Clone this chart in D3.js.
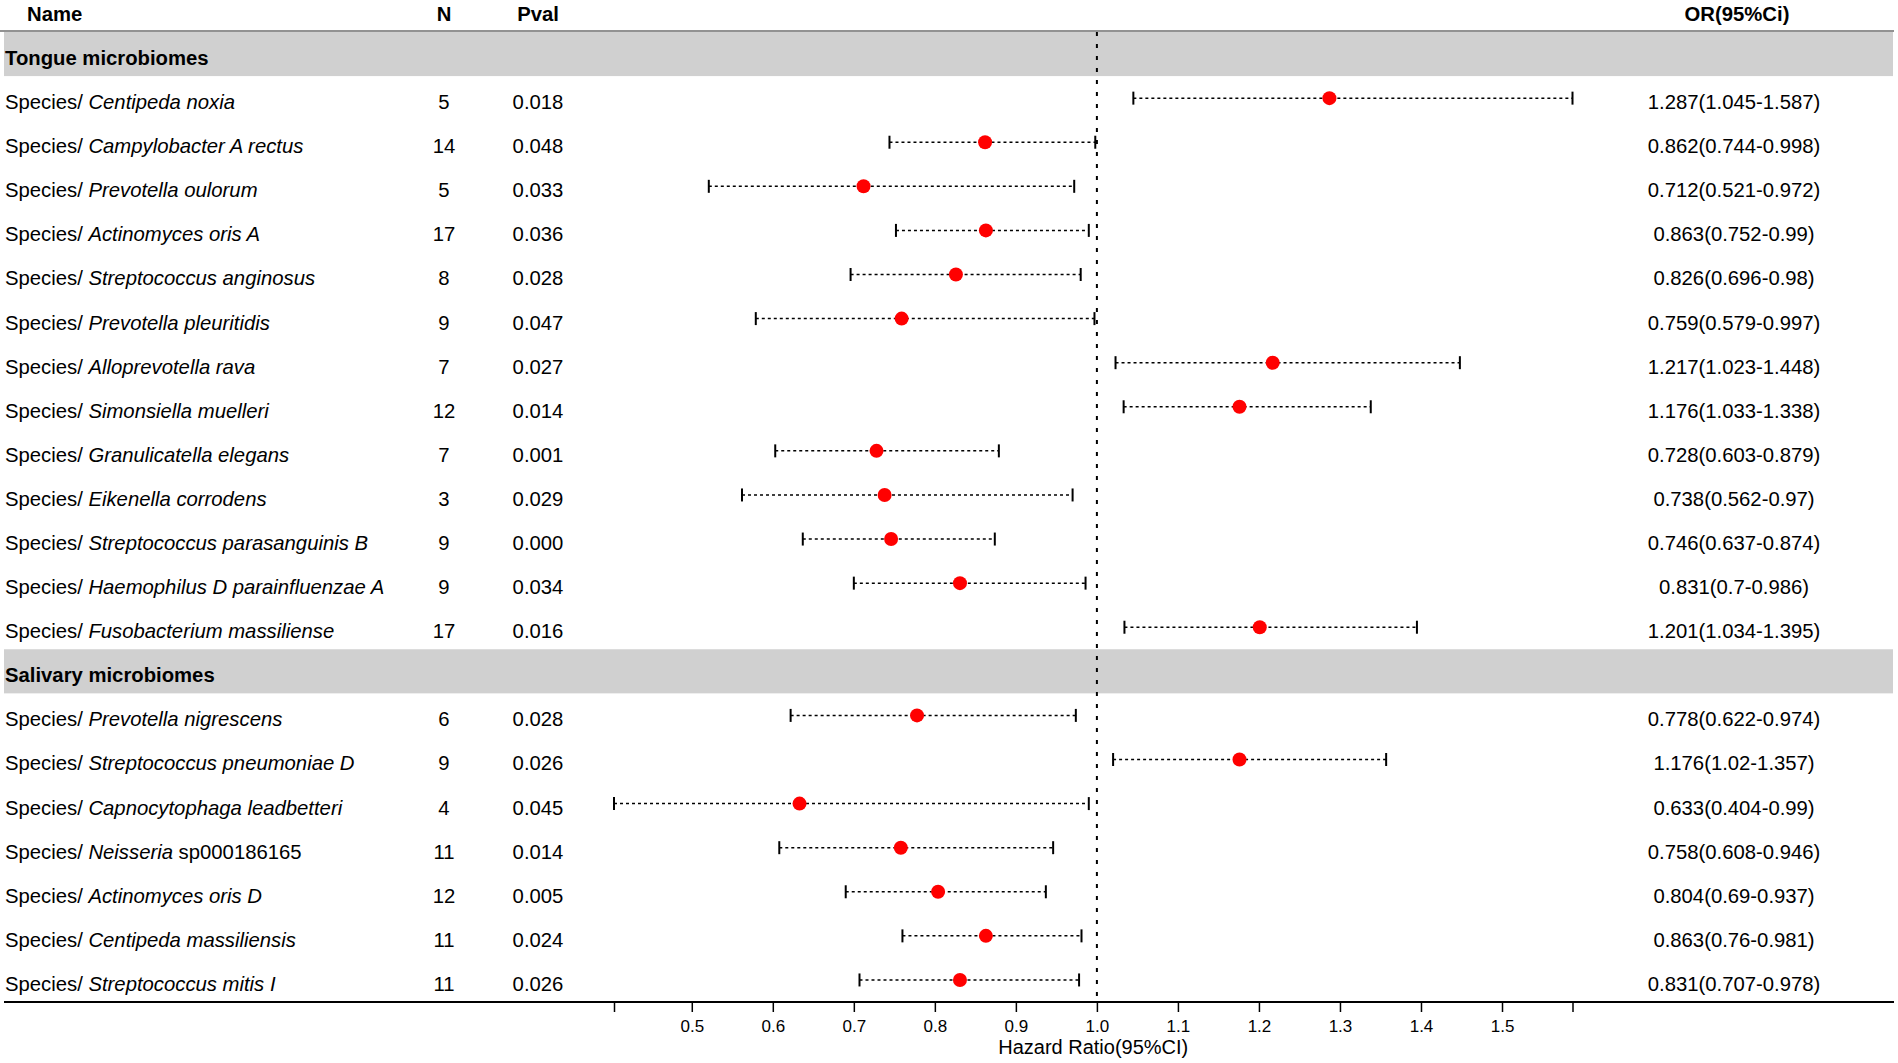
<!DOCTYPE html>
<html>
<head>
<meta charset="utf-8">
<script src="https://cdn.jsdelivr.net/npm/d3@7"></script>
<style>
  body { margin: 0; background: #fff; }
  text { font-family: 'Liberation Sans', Arial, sans-serif; }
</style>
</head>
<body>
<script>
var canvasWidth = 1898;
var canvasHeight = 1063;

// Tongue microbiomes
var tongueTaxa = ['Centipeda noxia', 'Campylobacter A rectus', 'Prevotella oulorum', 'Actinomyces oris A',
    'Streptococcus anginosus', 'Prevotella pleuritidis', 'Alloprevotella rava', 'Simonsiella muelleri',
    'Granulicatella elegans', 'Eikenella corrodens', 'Streptococcus parasanguinis B',
    'Haemophilus D parainfluenzae A', 'Fusobacterium massiliense'];
var tongueN = [5, 14, 5, 17, 8, 9, 7, 12, 7, 3, 9, 9, 17];
var tonguePval = ['0.018', '0.048', '0.033', '0.036', '0.028', '0.047', '0.027', '0.014', '0.001', '0.029', '0.000', '0.034', '0.016'];
var tongueOR = [1.287, 0.862, 0.712, 0.863, 0.826, 0.759, 1.217, 1.176, 0.728, 0.738, 0.746, 0.831, 1.201];
var tongueLower = [1.045, 0.744, 0.521, 0.752, 0.696, 0.579, 1.023, 1.033, 0.603, 0.562, 0.637, 0.7, 1.034];
var tongueUpper = [1.587, 0.998, 0.972, 0.99, 0.98, 0.997, 1.448, 1.338, 0.879, 0.97, 0.874, 0.986, 1.395];

// Salivary microbiomes
var salivaryTaxa = ['Prevotella nigrescens', 'Streptococcus pneumoniae D', 'Capnocytophaga leadbetteri',
    'Neisseria', 'Actinomyces oris D', 'Centipeda massiliensis', 'Streptococcus mitis I'];
var salivarySuffix = ['', '', '', ' sp000186165', '', '', ''];
var salivaryN = [6, 9, 4, 11, 12, 11, 11];
var salivaryPval = ['0.028', '0.026', '0.045', '0.014', '0.005', '0.024', '0.026'];
var salivaryOR = [0.778, 1.176, 0.633, 0.758, 0.804, 0.863, 0.831];
var salivaryLower = [0.622, 1.02, 0.404, 0.608, 0.69, 0.76, 0.707];
var salivaryUpper = [0.974, 1.357, 0.99, 0.946, 0.937, 0.981, 0.978];

var groupNames = ['Tongue microbiomes', 'Salivary microbiomes'];
var tickValues = [0.5, 0.6, 0.7, 0.8, 0.9, 1.0, 1.1, 1.2, 1.3, 1.4, 1.5];

// build row list: group header followed by its species
var rows = [];
function addGroup(name, taxa, suffix, n, p, or, lo, hi) {
    rows.push({ header: true, label: name });
    taxa.forEach(function (t, i) {
        rows.push({
            header: false, taxon: t, suffix: suffix ? suffix[i] : '',
            n: n[i], p: p[i], or: or[i], lo: lo[i], hi: hi[i]
        });
    });
}
addGroup(groupNames[0], tongueTaxa, null, tongueN, tonguePval, tongueOR, tongueLower, tongueUpper);
addGroup(groupNames[1], salivaryTaxa, salivarySuffix, salivaryN, salivaryPval, salivaryOR, salivaryLower, salivaryUpper);

var svg = d3.select('body')
    .append('svg')
    .attr('width', canvasWidth)
    .attr('height', canvasHeight);

var tableTop = 32;
var tableBottom = 1002;
var rowH = (tableBottom - tableTop) / rows.length;

var allLo = d3.min(rows.filter(function (r) { return !r.header; }), function (r) { return r.lo; });
var allHi = d3.max(rows.filter(function (r) { return !r.header; }), function (r) { return r.hi; });

var xScale = d3.scaleLinear().domain([allLo, allHi]).range([614, 1572.5]);
var rowTop = function (i) { return tableTop + i * rowH; };

var colName = 5, colN = 444, colP = 538, colOR = 1734;
var fs = '20.3px';

// grey group bands
svg.selectAll('rect.band')
    .data(rows.filter(function (r) { return r.header; }))
    .enter()
    .append('rect')
    .attr('x', 4)
    .attr('y', function (d) { return rowTop(rows.indexOf(d)); })
    .attr('width', 1889)
    .attr('height', rowH)
    .attr('fill', '#d0d0d0');

// header
var head = svg.append('g').attr('font-size', fs).attr('font-weight', 'bold');
head.append('text').attr('x', 27).attr('y', 21).text('Name');
head.append('text').attr('x', colN).attr('y', 21).attr('text-anchor', 'middle').text('N');
head.append('text').attr('x', colP).attr('y', 21).attr('text-anchor', 'middle').text('Pval');
head.append('text').attr('x', colOR + 3).attr('y', 21).attr('text-anchor', 'middle').text('OR(95%Ci)');

svg.append('line')
    .attr('x1', 0).attr('x2', 1894)
    .attr('y1', 31).attr('y2', 31)
    .attr('stroke', '#6e6e6e').attr('stroke-width', 1.6);

// reference line at 1
svg.append('line')
    .attr('x1', xScale(1)).attr('x2', xScale(1))
    .attr('y1', 32).attr('y2', tableBottom)
    .attr('stroke', '#000').attr('stroke-width', 2)
    .attr('stroke-dasharray', '4,8');

var rowG = svg.selectAll('g.row')
    .data(rows)
    .enter()
    .append('g')
    .attr('class', 'row')
    .attr('font-size', fs);

function baseY(d) { return rowTop(rows.indexOf(d)) + 33; }

// text columns
rowG.filter(function (d) { return d.header; })
    .append('text')
    .attr('x', colName)
    .attr('y', baseY)
    .attr('font-weight', 'bold')
    .text(function (d) { return d.label; });

var sp = rowG.filter(function (d) { return !d.header; });

var nameText = sp.append('text')
    .attr('x', colName)
    .attr('y', baseY);
nameText.append('tspan').text('Species/ ');
nameText.append('tspan').attr('font-style', 'italic').text(function (d) { return d.taxon; });
nameText.append('tspan').text(function (d) { return d.suffix; });

sp.append('text')
    .attr('x', colN)
    .attr('y', baseY)
    .attr('text-anchor', 'middle')
    .text(function (d) { return d.n; });

sp.append('text')
    .attr('x', colP)
    .attr('y', baseY)
    .attr('text-anchor', 'middle')
    .text(function (d) { return d.p; });

sp.append('text')
    .attr('x', colOR)
    .attr('y', baseY)
    .attr('text-anchor', 'middle')
    .text(function (d) { return d.or + '(' + d.lo + '-' + d.hi + ')'; });

// confidence intervals
function midY(d) { return rowTop(rows.indexOf(d)) + rowH / 2; }

sp.append('line')
    .attr('x1', function (d) { return xScale(d.lo); })
    .attr('x2', function (d) { return xScale(d.hi); })
    .attr('y1', midY).attr('y2', midY)
    .attr('stroke', '#000').attr('stroke-width', 1.5)
    .attr('stroke-dasharray', '3,3');

['lo', 'hi'].forEach(function (k) {
    sp.append('line')
        .attr('x1', function (d) { return xScale(d[k]); })
        .attr('x2', function (d) { return xScale(d[k]); })
        .attr('y1', function (d) { return midY(d) - 6.5; })
        .attr('y2', function (d) { return midY(d) + 6.5; })
        .attr('stroke', '#000').attr('stroke-width', 2);
});

sp.append('circle')
    .attr('cx', function (d) { return xScale(d.or); })
    .attr('cy', midY)
    .attr('r', 7)
    .attr('fill', '#f00');

// x axis
svg.append('line')
    .attr('x1', 4).attr('x2', 1894)
    .attr('y1', tableBottom).attr('y2', tableBottom)
    .attr('stroke', '#000').attr('stroke-width', 2);

var axisG = svg.append('g')
    .attr('transform', 'translate(0,' + tableBottom + ')')
    .call(d3.axisBottom(xScale)
        .tickValues([allLo].concat(tickValues, [allHi]))
        .tickFormat(function (d) { return (d === allLo || d === allHi) ? '' : d3.format('.1f')(d); })
        .tickSize(10)
        .tickSizeOuter(0)
        .tickPadding(8));
axisG.select('.domain').remove();
axisG.selectAll('.tick line').attr('stroke-width', 1.5);
axisG.selectAll('.tick text')
    .attr('font-family', "'Liberation Sans', Arial, sans-serif")
    .attr('font-size', '17px')
    .attr('fill', '#000');

svg.append('text')
    .attr('x', (xScale.range()[0] + xScale.range()[1]) / 2)
    .attr('y', 1054)
    .attr('text-anchor', 'middle')
    .attr('font-size', '20px')
    .text('Hazard Ratio(95%CI)');
</script>
</body>
</html>
